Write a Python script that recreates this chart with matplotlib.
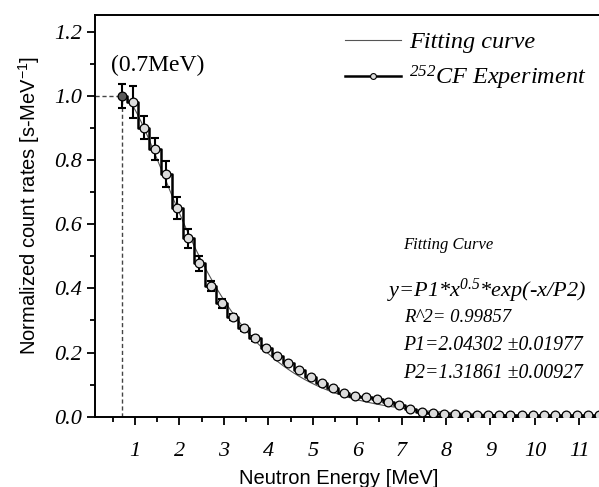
#!/usr/bin/env python3
"""
Neutron energy spectrum of 252Cf: normalized count rates with step-connected
experimental points, error bars and a Maxwellian-type fitting curve.
"""

import numpy as np
import matplotlib
matplotlib.use("Agg")
import matplotlib.pyplot as plt
from matplotlib.lines import Line2D
from matplotlib.ticker import MultipleLocator, FormatStrFormatter

energies = [0.7, 0.95, 1.2, 1.45, 1.7, 1.95, 2.2, 2.45, 2.7, 2.95, 3.2,
            3.45, 3.7, 3.95, 4.2, 4.45, 4.7, 4.95, 5.2, 5.45, 5.7, 5.95,
            6.2, 6.45, 6.7, 6.95, 7.2, 7.45, 7.7, 7.95, 8.2, 8.45, 8.7,
            8.95, 9.2, 9.45, 9.7, 9.95, 10.2, 10.45, 10.7, 10.95, 11.2, 11.45]
rates = [1.000, 0.980, 0.901, 0.834, 0.756, 0.651, 0.556, 0.478, 0.407,
         0.353, 0.310, 0.276, 0.244, 0.214, 0.189, 0.166, 0.144, 0.124,
         0.105, 0.089, 0.075, 0.066, 0.060, 0.054, 0.046, 0.036, 0.025,
         0.015, 0.010, 0.008, 0.007, 0.006, 0.006, 0.006, 0.006, 0.006,
         0.006, 0.006, 0.006, 0.006, 0.006, 0.006, 0.006, 0.006]
errors = [0.037, 0.050, 0.037, 0.034, 0.040, 0.034, 0.029, 0.024, 0.016,
          0.014, 0.010, 0.008, 0.007, 0.006, 0.005, 0.005, 0.004, 0.004,
          0.003, 0.003, 0.003, 0.002, 0.002, 0.002, 0.002, 0.002, 0.002,
          0.002, 0.002, 0.002, 0.002, 0.002, 0.002, 0.002, 0.002, 0.002,
          0.002, 0.002, 0.002, 0.002, 0.002, 0.002, 0.002, 0.002]

# Fit parameters shown in the figure
P1 = 2.04302
P2 = 1.31861

x_ticks = [1, 2, 3, 4, 5, 6, 7, 8, 9, 10, 11]

SERIF = "Liberation Serif"
SANS = "Liberation Sans"

plt.rcParams["mathtext.fontset"] = "custom"
plt.rcParams["mathtext.rm"] = SERIF + ":italic"
plt.rcParams["mathtext.it"] = SERIF + ":italic"
plt.rcParams["mathtext.sf"] = SANS

fig = plt.figure(figsize=(5.99, 4.87), dpi=100)
ax = fig.add_axes([95 / 599, 70.3 / 487, 515 / 599, 401.7 / 487])

x = np.array(energies)
y = np.array(rates)

# fitting curve
xf = np.linspace(energies[0], 12, 400)
yf = P1 * xf ** 0.5 * np.exp(-xf / P2)
ax.plot(xf, yf, color="#555555", lw=0.8, zorder=2)

# step connection of the experiment
ax.step(x, y, where="mid", color="black", lw=1.8, zorder=3)

# error bars
ax.errorbar(x, y, yerr=errors, fmt="none", ecolor="black", elinewidth=1.5,
            capsize=3.2, capthick=1.5, zorder=4)

# markers
ax.plot(x[1:], y[1:], "o", ms=6.3, mfc="#dcdcdc", mec="black", mew=0.9,
        zorder=5)
ax.plot(x[:1], y[:1], "o", ms=6.3, mfc="#5a5a5a", mec="black", mew=0.9,
        zorder=5)

ax.set_xlim(0.1, 11.69)
ax.set_ylim(0, 1.252)

# dashed guide lines to the peak
xmin = ax.get_xlim()[0]
ax.plot([xmin, energies[0]], [rates[0], rates[0]], ls=(0, (3, 2)),
        color="#444444", lw=1.0, zorder=1)
ax.plot([energies[0], energies[0]], [0, rates[0]], ls=(0, (3, 2)),
        color="#444444", lw=1.0, zorder=1)
ax.text(1.52, 1.096, "(0.7MeV)", family=SERIF, fontsize=17,
        ha="center", va="center")

# axes styling
ax.set_xticks(x_ticks)
ax.xaxis.set_minor_locator(MultipleLocator(0.5))
ax.yaxis.set_major_locator(MultipleLocator(0.2))
ax.yaxis.set_minor_locator(MultipleLocator(0.1))
ax.yaxis.set_major_formatter(FormatStrFormatter("%.1f"))
ax.tick_params(which="major", direction="out", length=5.5, width=1.3)
ax.tick_params(which="minor", direction="out", length=3.3, width=1.3)
ax.tick_params(axis="x", which="major", pad=13)
ax.tick_params(axis="y", which="major", pad=4)
for lab in ax.get_xticklabels() + ax.get_yticklabels():
    lab.set_family(SERIF)
    lab.set_style("italic")
    lab.set_fontsize(16)
for sp in ax.spines.values():
    sp.set_linewidth(1.4)

ax.set_xlabel("Neutron Energy [MeV]", family=SANS, fontsize=14.5)
ax.set_ylabel(r"Normalized count rates [s-MeV$^{\mathsf{-1}}$]",
              family=SANS, fontsize=14.5)
ax.xaxis.set_label_coords(339 / 599, 9 / 487, transform=fig.transFigure)
ax.xaxis.label.set_va("center")
ax.yaxis.set_label_coords(29 / 599, (487 - 205) / 487,
                          transform=fig.transFigure)
ax.yaxis.label.set_va("center")

# legend
handles = [
    Line2D([], [], color="#555555", lw=0.8),
    Line2D([], [], color="black", lw=1.8, marker="o", ms=4.2,
           mfc="#dcdcdc", mec="black", mew=0.8),
]
labels = ["Fitting curve", r"$^{252}$CF Experiment"]
ax.legend(handles, labels, loc="upper left",
          bbox_to_anchor=(345 / 599, (487 - 31) / 487),
          bbox_transform=fig.transFigure, frameon=False, borderpad=0,
          borderaxespad=0, handlelength=2.3, handletextpad=0.35,
          labelspacing=0.45,
          prop={"family": SERIF, "style": "italic", "size": 17.5})

# fit summary text block
fig.text(403 / 599, 1 - 245 / 487, "Fitting Curve", family=SERIF,
         style="italic", fontsize=12, va="center")
fig.text(387 / 599, 1 - 291 / 487, r"y=P1*x$^{0.5}$*exp(-x/P2)",
         family=SERIF, style="italic", fontsize=16, va="center")
fig.text(404 / 599, 1 - 318 / 487, "R^2= 0.99857", family=SERIF,
         style="italic", fontsize=13.5, va="center")
fig.text(403 / 599, 1 - 345 / 487, "P1=2.04302 \u00b10.01977", family=SERIF,
         style="italic", fontsize=14.2, va="center")
fig.text(403 / 599, 1 - 373 / 487, "P2=1.31861 \u00b10.00927", family=SERIF,
         style="italic", fontsize=14.2, va="center")

fig.savefig("out.png", dpi=100, facecolor="white")
